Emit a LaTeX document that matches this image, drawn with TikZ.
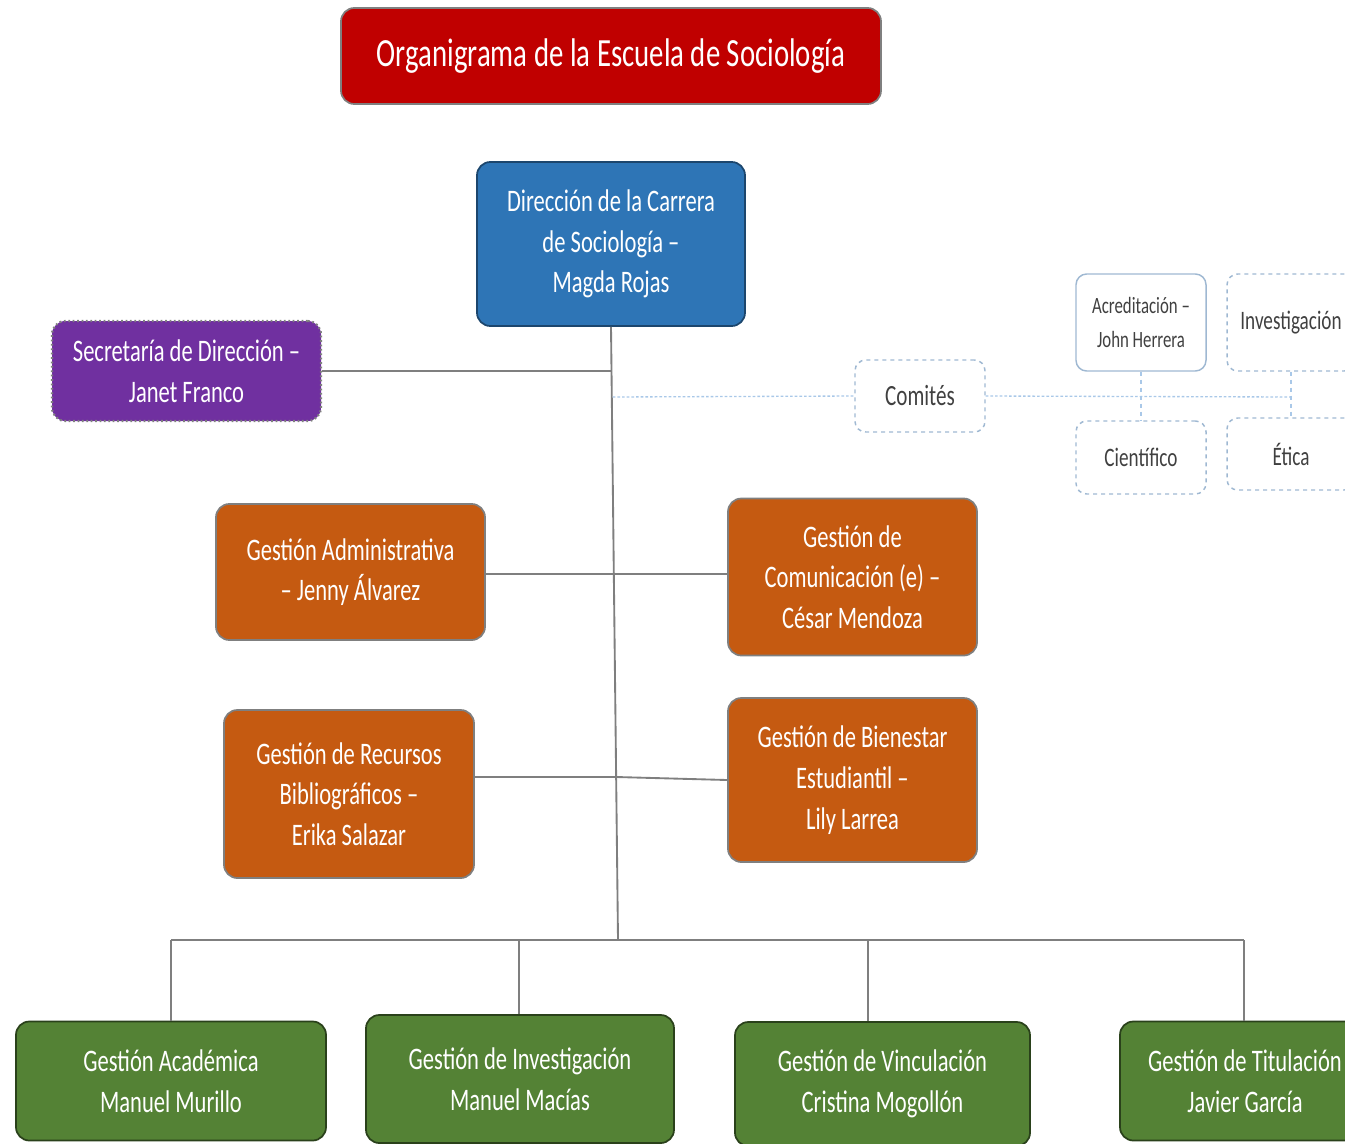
\documentclass[tikz,border=0pt]{standalone}
\usepackage{fontspec}
\setmainfont{Carlito}[FakeStretch=0.72]
\definecolor{cred}{HTML}{C00000}
\definecolor{cblue}{HTML}{2E75B6}
\definecolor{cpurple}{HTML}{7030A0}
\definecolor{corange}{HTML}{C55A11}
\definecolor{cgreen}{HTML}{548235}
\definecolor{cline}{HTML}{7F7F7F}
\definecolor{ccom}{HTML}{9FB8D2}
\definecolor{cdot}{HTML}{A9C8E8}
\definecolor{ctext}{HTML}{404040}
\begin{document}
\begin{tikzpicture}[x=0.75pt,y=-0.75pt,
  box/.style={rectangle, rounded corners=10pt, draw=cline, line width=1.3pt, text=white, align=center, inner sep=0pt, font=\fontsize{23.5}{30.5}\selectfont},
  combox/.style={rectangle, rounded corners=8pt, draw=ccom, line width=1.1pt, dashed, text=ctext, align=center, inner sep=0pt, font=\fontsize{20}{25}\selectfont},
  conn/.style={draw=cline, line width=1.4pt},
  thin/.style={draw=cline, line width=0.9pt},
  dots/.style={draw=cdot, line width=1pt, dash pattern=on 2pt off 1.5pt}]
\useasboundingbox (0,0) rectangle (1345,1143);
\clip (0,0) rectangle (1345,1143);
% title
\node[box, fill=cred, minimum width={540*0.75pt}, minimum height={96*0.75pt}, font=\fontsize{30}{30}\selectfont] (title) at (611,56) {Organigrama de la Escuela de Sociología};
% direction
\node[box, fill=cblue, draw=cblue!60!black, minimum width={268*0.75pt}, minimum height={164*0.75pt}] (dir) at (611,244) {Dirección de la Carrera\\de Sociología –\\Magda Rojas};
\node[box, fill=cpurple, dotted, line width=1.6pt, minimum width={269*0.75pt}, minimum height={100*0.75pt}] (sec) at (186.5,371) {Secretaría de Dirección –\\Janet Franco};
% orange
\node[box, fill=corange, minimum width={269*0.75pt}, minimum height={136*0.75pt}] (ga) at (350.5,572) {Gestión Administrativa\\– Jenny Álvarez};
\node[box, fill=corange, minimum width={249*0.75pt}, minimum height={157*0.75pt}] (gc) at (852.5,577) {Gestión de\\Comunicación (e) –\\César Mendoza};
\node[box, fill=corange, minimum width={250*0.75pt}, minimum height={168*0.75pt}] (gr) at (349,794) {Gestión de Recursos\\Bibliográficos –\\Erika Salazar};
\node[box, fill=corange, minimum width={249*0.75pt}, minimum height={164*0.75pt}] (gb) at (852.5,780) {Gestión de Bienestar\\Estudiantil –\\Lily Larrea};
% committees
\node[combox, minimum width={130*0.75pt}, minimum height={72*0.75pt}, font=\fontsize{22}{25}\selectfont] (com) at (920,396) {Comités};
\node[combox, solid, minimum width={130*0.75pt}, minimum height={97*0.75pt}, font=\fontsize{17.5}{25}\selectfont] (acr) at (1141,322.5) {Acreditación –\\John Herrera};
\node[combox, minimum width={128*0.75pt}, minimum height={97*0.75pt}] (inv) at (1291,322.5) {Investigación};
\node[combox, minimum width={130*0.75pt}, minimum height={73*0.75pt}] (cie) at (1141,457.5) {Científico};
\node[combox, minimum width={128*0.75pt}, minimum height={72*0.75pt}] (eti) at (1291,454) {Ética};
% green
\node[box, fill=cgreen, draw=cgreen!50!black, minimum width={310*0.75pt}, minimum height={119*0.75pt}] (gac) at (171,1081) {Gestión Académica\\Manuel Murillo};
\node[box, fill=cgreen, draw=cgreen!50!black, minimum width={308*0.75pt}, minimum height={128*0.75pt}] (gin) at (520,1079) {Gestión de Investigación\\Manuel Macías};
\node[box, fill=cgreen, draw=cgreen!50!black, minimum width={295*0.75pt}, minimum height={124*0.75pt}] (gvi) at (882.5,1084) {Gestión de Vinculación\\Cristina Mogollón};
\node[box, fill=cgreen, draw=cgreen!50!black, minimum width={250*0.75pt}, minimum height={119*0.75pt}] (gti) at (1245,1081) {Gestión de Titulación\\Javier García};
% trunk coordinates
\coordinate (bus) at (618,940);
\coordinate (t1) at (612.4,371);
\coordinate (t2) at (612.7,397);
\coordinate (t3) at (614.4,574);
\coordinate (t4) at (616.4,777);
\coordinate (bl) at (171,940);
\coordinate (br) at (1244,940);
\coordinate (bv) at (868,940);
\coordinate (bi) at (519,940);
\coordinate (cj) at (1290,397);
% connectors
\draw[conn] (dir.south) -- (bus);
\draw[conn] (sec.east) -- (t1);
\draw[conn] (ga.east |- t3) -- (t3);
\draw[conn] (t3) -- (gc.west |- t3);
\draw[conn] (gr.east |- t4) -- (t4);
\draw[conn] (t4) -- (gb.west);
\draw[conn, line width=2pt] (bl) -- (br);
\draw[thin] (bl) -- (gac.north);
\draw[thin] (bi) -- (bi |- gin.north);
\draw[thin] (bv) -- (bv |- gvi.north);
\draw[thin] (br) -- (br |- gti.north);
\draw[dots] (t2) -- (com.west);
\draw[dots] (com.east) -- (cj);
\draw[dots, dashed, draw=cdot] (acr.south) -- (cie.north);
\draw[dots, dashed, draw=cdot] (inv.south) -- (eti.north);
\end{tikzpicture}
\end{document}
